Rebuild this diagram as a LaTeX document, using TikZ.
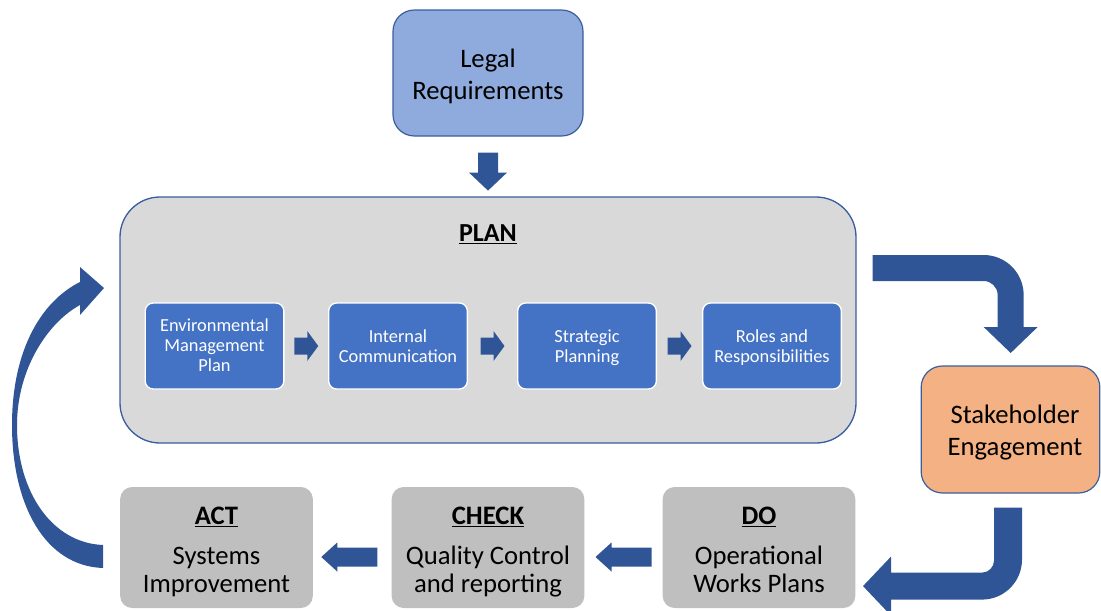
\documentclass[tikz,border=0pt]{standalone}
\usepackage{fontspec}
\setmainfont{Carlito}
\usetikzlibrary{calc}
\definecolor{arrowblue}{HTML}{2F5597}
\definecolor{edgeblue}{HTML}{3A5F9E}
\definecolor{legalfill}{HTML}{8FAADC}
\definecolor{planfill}{HTML}{D9D9D9}
\definecolor{stepfill}{HTML}{4472C4}
\definecolor{stakefill}{HTML}{F4B183}
\definecolor{grayfill}{HTML}{BFBFBF}
\tikzset{
  blockarrow/.style={fill=arrowblue},
  plaintext/.style={inner sep=0pt, align=center},
  legalbox/.style={draw=edgeblue, line width=0.9pt, fill=legalfill, rounded corners=16pt,
    minimum width=142.5pt, minimum height=94.5pt, inner sep=0pt},
  bigtext/.style={plaintext, font=\fontsize{20pt}{23.5pt}\selectfont},
  planbox/.style={draw=edgeblue, line width=1pt, fill=planfill, rounded corners=30pt,
    minimum width=552pt, minimum height=184.5pt, inner sep=0pt},
  titletext/.style={inner sep=0pt, font=\fontsize{19.5pt}{23pt}\selectfont\bfseries},
  stepbox/.style={draw=white, line width=1pt, fill=stepfill, rounded corners=6pt,
    minimum width=104pt, minimum height=64.5pt, inner sep=0pt},
  steptext/.style={plaintext, text=white, font=\fontsize{13.8pt}{15pt}\selectfont,
    execute at begin node=\strut, execute at end node=\strut},
  stakebox/.style={draw=edgeblue, line width=0.9pt, fill=stakefill, rounded corners=16pt,
    minimum width=134pt, minimum height=95.25pt, inner sep=0pt},
  stakebig/.style={plaintext, font=\fontsize{20pt}{24pt}\selectfont},
  graybox/.style={fill=grayfill, rounded corners=9pt,
    minimum width=144.5pt, minimum height=90.75pt, inner sep=0pt},
  graytext/.style={plaintext, font=\fontsize{20pt}{21pt}\selectfont,
    execute at begin node=\strut, execute at end node=\strut},
}
\newcommand\rblk[1]{%
  \fill[blockarrow] ($#1+(-12,-8.5)$) -- ++(13,0) -- ++(0,-6.5) -- ++(11,15)
    -- ++(-11,15) -- ++(0,-6.5) -- ++(-13,0) -- cycle;}
\newcommand\lblk[1]{%
  \fill[blockarrow] ($#1+(28,0)$) -- ++(-40,0) -- ++(0,-5) -- ++(-16,14.5)
    -- ++(16,14.5) -- ++(0,-5) -- ++(40,0) -- cycle;}
\begin{document}
\begin{tikzpicture}[x=0.75pt,y=-0.75pt]
\useasboundingbox (0,0) rectangle (1101,611);

% nodes
\node[legalbox] (legal) at (488,73) {};
\node[bigtext] (legaltext) at ($(legal.center)+(0,3.5)$) {Legal\\Requirements};
\node[planbox] (plan) at (488,320) {};
\node[titletext] (plantitle) at (488,234) {\underline{PLAN}};
\node[stepbox] (env) at (214.5,346) {};
\node[stepbox] (int) at (398,346) {};
\node[stepbox] (strat) at (587,346) {};
\node[stepbox] (roles) at (772,346) {};
\node[steptext] (envtext) at ($(env.center)+(0,2.5)$) {Environmental\\Management\\Plan};
\node[steptext] (inttext) at ($(int.center)+(0,3)$) {Internal\\Communication};
\node[steptext] (strattext) at ($(strat.center)+(0,3)$) {Strategic\\Planning};
\node[steptext] (rolestext) at ($(roles.center)+(0,3)$) {Roles and\\Responsibilities};
\node[stakebox] (stake) at (1010.5,429.5) {};
\node[stakebig] (staketext) at ($(stake.center)+(4.5,3)$) {Stakeholder\\Engagement};
\node[graybox] (act) at (216.5,547.5) {};
\node[graybox] (check) at (488,547.5) {};
\node[graybox] (do) at (759,547.5) {};
\node[graytext] (acttext) at ($(act.center)+(0,6)$) {\underline{\textbf{ACT}}\\[9pt]Systems\\Improvement};
\node[graytext] (checktext) at ($(check.center)+(0,6)$) {\underline{\textbf{CHECK}}\\[9pt]Quality Control\\and reporting};
\node[graytext] (dotext) at ($(do.center)+(0,6)$) {\underline{\textbf{DO}}\\[9pt]Operational\\Works Plans};

% legal -> plan
\fill[blockarrow] ($(legal.south)+(-10,16)$) -- ++(20,0) -- ++(0,20) -- ++(9,0)
  -- ++(-19,18) -- ++(-19,-18) -- ++(9,0) -- cycle;

% steps inside plan
\rblk{($(env.east)!0.5!(int.west)$)}
\rblk{($(int.east)!0.5!(strat.west)$)}
\rblk{($(strat.east)!0.5!(roles.west)$)}

% plan -> stakeholder (bent arrow)
\coordinate (ba) at ($(plan.east)+(16,-65)$);
\fill[blockarrow] (ba) -- ++(111,0) .. controls +(22.1,0) and +(0,-22.1) .. ++(40,40)
  -- ++(0,32) -- ++(14,0) -- ++(-27,26) -- ++(-27,-26) -- ++(14,0) -- ++(0,-32)
  .. controls +(0,-7.7) and +(7.7,0) .. ++(-14,-14) -- ++(-111,0) -- cycle;

% stakeholder -> do (bent arrow)
\coordinate (bb) at ($(stake.south)+(-16.5,14)$);
\fill[blockarrow] (bb) -- ++(28,0) -- ++(0,52) .. controls +(0,22.1) and +(22.1,0) .. ++(-40,40)
  -- ++(-91,0) -- ++(0,16) -- ++(-28,-29.5) -- ++(28,-29.5) -- ++(0,16) -- ++(91,0)
  .. controls +(6.6,0) and +(0,6.6) .. ++(12,-12) -- cycle;

% do -> check -> act
\lblk{($(check.east)!0.5!(do.west)$)}
\lblk{($(act.east)!0.5!(check.west)+(-3,0)$)}

% act -> plan (curved arrow)
\fill[blockarrow] (103,568) .. controls (45,566) and (12,505) .. (12,425)
  .. controls (12,352) and (40,302) .. (80,282) -- (80,267) -- (104,288) -- (80,315)
  -- (80,305) .. controls (47,323) and (17,370) .. (17,425)
  .. controls (17,492) and (52,543) .. (103,545) -- cycle;
\end{tikzpicture}
\end{document}
